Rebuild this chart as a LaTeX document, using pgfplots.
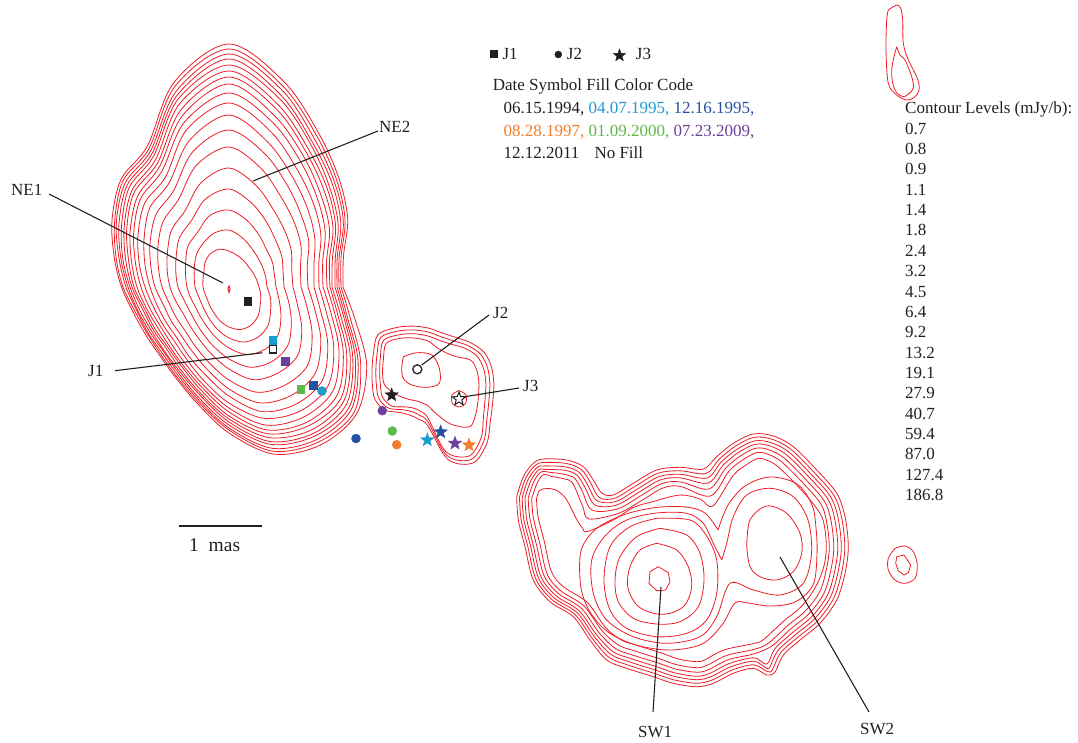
\documentclass[border=0pt]{standalone}
\usepackage{fontspec}
\setmainfont{Liberation Serif}
\usepackage{pgfplots}
\usepackage{pgfplotstable}
\pgfplotsset{compat=1.18}
\definecolor{cRed}{RGB}{237,28,36}
\definecolor{cText}{RGB}{35,31,32}
\definecolor{cCyan}{RGB}{30,155,205}
\definecolor{cBlue}{RGB}{38,80,160}
\definecolor{cOrange}{RGB}{242,125,45}
\definecolor{cGreen}{RGB}{95,185,72}
\definecolor{cPurple}{RGB}{108,64,155}
\pgfdeclareplotmark{fstar}{%
 \pgfpathmoveto{\pgfpointpolar{90}{\pgfplotmarksize}}%
 \pgfpathlineto{\pgfpointpolar{126}{0.42\pgfplotmarksize}}%
 \pgfpathlineto{\pgfpointpolar{162}{\pgfplotmarksize}}%
 \pgfpathlineto{\pgfpointpolar{198}{0.42\pgfplotmarksize}}%
 \pgfpathlineto{\pgfpointpolar{234}{\pgfplotmarksize}}%
 \pgfpathlineto{\pgfpointpolar{270}{0.42\pgfplotmarksize}}%
 \pgfpathlineto{\pgfpointpolar{306}{\pgfplotmarksize}}%
 \pgfpathlineto{\pgfpointpolar{342}{0.42\pgfplotmarksize}}%
 \pgfpathlineto{\pgfpointpolar{18}{\pgfplotmarksize}}%
 \pgfpathlineto{\pgfpointpolar{54}{0.42\pgfplotmarksize}}%
 \pgfpathclose\pgfusepathqfillstroke}
% NE component: contour radii (px) at polar angles about (229,287), c1 outermost
\pgfplotstableread{
a c1 c2 c3 c4 c5 c6 c7 c8 c9 c10 c11 c12 c13 c14 c15 c16 c17 c18
0 114 112 110 108 106 103 101 98 94 90 85 79 72 64 55 47 38 30
15 131 126 123 121 119 116 113 110 106 101 95 89 81 71 62 52 43 33
30 159 152 149 146 143 140 136 132 127 121 114 106 96 84 72 60 48 36
45 180 177 173 170 166 162 158 153 147 140 132 122 111 97 83 69 55 41
60 182.5 179 176 172 169 165 160 156 150 143 135 125 113 99 86 72 58 44
75 173 170 167 163 160 156 152 148 143 136 129 120 109 96 83 70 57 44
90 146 143 141 138 135 132 129 125 121 116 109 102 93 82 72 61 51 40
105 121 119 117 115 112 110 107 104 101 97 91 85 78 69 61 52 44 35
120 105.5 104 102 100 98 96 93 91 88 84 80 74 68 60 53 45 38 30
135 97.5 96 94 92 91 88 86 84 81 77 73 68 62 55 48 41 34 27
150 96 94 93 91 89 87 85 82 79 76 72 67 61 53 46 39 32 25
165 99 97 95 94 92 89 87 85 82 78 74 68 62 55 47 40 32 25
180 107.5 106 103 101 99 97 95 92 88 84 79 74 67 59 51 42 34 26
195 119 117 114 112 110 107 104 101 97 93 87 81 73 64 55 45 36 27
210 135 132 130 127 124 121 118 114 110 105 98 91 82 71 61 50 40 29
225 152.5 150 147 144 141 137 134 129 125 119 112 103 93 81 70 58 46 34
240 163 160 157 154 151 147 143 139 134 127 120 111 101 88 76 63 51 38
255 212 208 203 199 195 190 184 178 171 163 152 140 126 108 91 74 56 39
270 243 238 233 228 222 216 210 203 194 184 172 157 140 119 98 77 57 36
285 212.5 208 204 199 195 189 184 177 170 161 150 138 123 105 87 69 51 32.5
300 178.5 175 171 167 164 159 155 150 144 136 127 117 104 89 75 60 45 30
315 155 152 149 146 142 139 135 130 125 119 111 102 92 79 66 53 41 28
330 137 134 132 129 126 123 120 116 111 106 99 92 83 72 61 50 39 28
345 118.5 116 114 112 110 107 104 101 97 93 88 81 74 65 56 47 38 28.5
360 114 112 110 108 106 103 101 98 94 90 85 79 72 64 55 47 38 30
}\NEtab
% J2/J3 component: radii about (428,385)
\pgfplotstableread{
a o1 o2 o3 j4
0 66 62 58 51
15 67 63 59 52
30 72 68 64 55.5
45 83 79 75 59
60 90 86 82 45
75 77 73 69 29
90 41 37 33 20.7
105 35.5 31.5 27.5 19
120 35 31 27 19
135 39 35 31 21.5
150 50 46 42 26.5
165 55 51 47 34
180 55.6 51.6 47.6 43.3
195 58 54 50 47
210 63 59 55 51.5
225 71 67 63 59
240 66 62 58 54
255 61 57 53 48.5
270 57 53 49 44
285 54 50 46 38
300 55 51 47 37
315 60 56 52 40
330 65 61 57 49.5
345 66 62 58 51
360 66 62 58 51
}\Jtab
\pgfplotsset{ct/.style={draw=cRed, line width=0.8pt, smooth, tension=0.55},
 cts/.style={draw=cRed, line width=0.8pt, sharp plot},
 ld/.style={draw=cText, line width=1.1pt, sharp plot}}
\tikzset{lab/.style={font=\fontsize{17}{20}\selectfont, text=cText, inner sep=0pt, anchor=base west}}
\begin{document}
\begin{tikzpicture}
\useasboundingbox (0,0) rectangle (1078pt,742pt);
\begin{axis}[at={(0,0)}, anchor=south west, scale only axis,
 width=1078pt, height=742pt, xmin=0, xmax=1078, ymin=0, ymax=742,
 y dir=reverse, hide axis, clip=false]
% NE contours
\pgfplotsinvokeforeach{1,...,18}{
 \addplot[ct] table[x expr={229+\thisrow{c#1}*cos(\thisrow{a})}, y expr={287+\thisrow{c#1}*sin(\thisrow{a})}] {\NEtab};
}
\addplot[cts, line width=1pt] coordinates {(229,285.5)(230,289)(229,292.5)(228,289)(229,285.5)};
% J contours
\addplot[ct] table[x expr={428+\thisrow{o1}*cos(\thisrow{a})}, y expr={385+\thisrow{o1}*sin(\thisrow{a})}] {\Jtab};
\addplot[ct] table[x expr={428+\thisrow{o2}*cos(\thisrow{a})}, y expr={385+\thisrow{o2}*sin(\thisrow{a})}] {\Jtab};
\addplot[ct] table[x expr={428+\thisrow{o3}*cos(\thisrow{a})}, y expr={385+\thisrow{o3}*sin(\thisrow{a})}] {\Jtab};
\addplot[ct] table[x expr={428+\thisrow{j4}*cos(\thisrow{a})}, y expr={385+\thisrow{j4}*sin(\thisrow{a})}] {\Jtab};
\addplot[ct] coordinates {(403.3,356.7)(416.7,352.7)(431.7,355)(439.3,368.3)(439.3,383.3)(426.7,387.3)(411.7,385)(403.3,378.3)(401.7,368.3)(403.3,356.7)};
\addplot[ct] coordinates {(459,390.5)(466,395)(465.5,403.5)(459,407)(452.5,403.5)(452,395)(459,390.5)};
% SW contours
\addplot[ct] coordinates {(516.7,496.7)(523.3,476.7)(533.3,463.3)(543.3,459)(566.7,460)(583.3,466.7)(593.3,480)(601.7,493)(613.3,495)(633.3,483.3)(656.7,470)(680,467.3)(703.3,469)(716.7,456.7)(733.3,443.3)(753.3,434)(773.3,436)(793.3,446.7)(816.7,470)(836.7,493.3)(845,516.7)(848.3,546.7)(845,573.3)(836.7,600)(820,623.3)(800,640)(783.3,655)(775,672)(766.7,675)(753.3,668.3)(733.3,673.3)(713.3,683.3)(696.7,686.7)(673.3,683.3)(653.3,676.7)(626.7,668.3)(606.7,660)(590,640)(573.3,616.7)(550,601.7)(533.3,580)(525,546.7)(518.3,520)(516.7,496.7)};
\addplot[ct] coordinates {(519.5,497)(525.8,478)(535.1,465.4)(543.7,462.5)(566,463.4)(581.2,469.5)(590.5,482.5)(599,497.3)(614.3,498.4)(635.1,486.3)(657.8,473.3)(680,470.8)(706,473.5)(719,459.4)(735.2,446.3)(753.9,437.4)(772.3,439.3)(791.1,449.5)(814.1,472.4)(833.7,495.1)(841.6,517.4)(844.8,546.7)(841.6,572.6)(833.6,598.4)(817.4,620.9)(797.7,637.3)(780.5,652.8)(772.3,669.8)(767.3,671.5)(753.5,664.8)(732.1,670)(712.1,680)(696.7,683.2)(674.1,679.9)(654.4,673.4)(627.9,665)(608.8,657.2)(592.2,638.3)(575.2,614.7)(551.9,599.6)(535.8,578.9)(527.7,546)(521.1,519.6)(519.5,497)};
\addplot[ct] coordinates {(522.2,497.3)(528.3,479.2)(537,467.5)(544,465.9)(565.4,466.9)(579.1,472.3)(587.7,485)(597,500.7)(615.3,501.7)(636.8,489.4)(658.9,476.7)(680,474.3)(707,478)(721.2,462)(737,449.3)(754.6,440.9)(771.2,442.7)(789,452.2)(811.6,474.8)(830.7,496.9)(838.1,518.2)(841.3,546.7)(838.1,571.8)(830.5,596.9)(814.8,618.5)(795.5,634.7)(777.8,650.7)(769.6,667.5)(766,668)(753.7,661.3)(730.9,666.7)(710.9,676.7)(696.7,679.7)(674.8,676.5)(655.5,670.1)(629.1,661.7)(611,654.5)(594.4,636.6)(577.2,612.7)(553.8,597.6)(538.4,577.7)(530.4,545.4)(523.8,519.1)(522.2,497.3)};
\addplot[ct] coordinates {(525,497.6)(530.9,480.5)(538.8,469.6)(544.4,469.4)(564.7,470.3)(577,475.1)(585,487.5)(595,505)(616.3,505.1)(638.6,492.4)(660.1,480)(680,477.8)(708,483)(723.5,464.7)(738.9,452.2)(755.2,444.3)(770.2,446)(786.8,455)(809,477.1)(827.7,498.8)(834.7,518.9)(837.8,546.7)(834.7,571.1)(827.4,595.3)(812.2,616.2)(793.2,632)(775,648.5)(767,664)(753.8,657.8)(729.6,663.4)(709.7,673.4)(696.7,676.2)(675.6,673.1)(656.6,666.7)(630.3,658.4)(613.1,651.7)(596.6,634.9)(579.1,610.7)(555.7,595.5)(540.9,576.6)(533.1,544.7)(526.6,518.7)(525,497.6)};
\addplot[ct] coordinates {(528.2,498)(533.7,481.9)(541,472)(551,472.5)(563.9,474.2)(574.6,478.3)(582,490.5)(592,510)(617.5,508.9)(640.6,495.9)(661.3,483.8)(680,481.8)(709,489)(726.1,467.7)(741,455.6)(755.9,448.2)(769,449.8)(784.3,458.2)(806.1,479.9)(824.2,500.8)(830.8,519.7)(833.8,546.7)(830.8,570.3)(823.8,593.5)(809.3,613.4)(790.6,629)(771.8,646)(754,653.8)(728.2,659.7)(708.4,669.7)(696.7,672.2)(676.5,669.2)(657.8,662.9)(631.6,654.7)(615.5,648.5)(599.2,632.9)(581.3,608.3)(557.9,593.1)(543.9,575.2)(536.3,543.9)(529.8,518.1)(528.2,498)};
\addplot[ct] coordinates {(531.7,498.4)(537,483.5)(543.3,474.7)(552,476.5)(563.1,478.6)(571.9,481.9)(578,495)(583,507)(589,519)(618.8,513.2)(642.8,499.8)(662.8,488.1)(680,486.3)(710.5,496)(729,471.1)(743.4,459.5)(756.7,452.6)(767.6,454.1)(781.5,461.7)(802.8,482.9)(820.4,503.2)(826.4,520.7)(829.3,546.7)(826.4,569.3)(819.8,591.5)(805.9,610.4)(787.7,625.6)(768.3,643.2)(754.3,649.3)(726.7,655.4)(706.8,665.4)(696.7,667.7)(677.5,664.9)(659.2,658.7)(633.2,650.4)(618.3,645)(602,630.7)(583.8,605.8)(560.3,590.5)(547.1,573.8)(539.7,543)(533.3,517.6)(531.7,498.4)};
\addplot[ct] coordinates {(536.5,498.9)(539.5,490.5)(546.7,488.5)(556,490)(565,497.5)(571,508)(577,520)(582.5,528)(587.5,531.5)(613.3,520)(633.3,507.5)(653.3,501.5)(680,495)(700,499)(713,506)(733,475.7)(746.6,464.6)(757.8,458.5)(765.8,459.8)(777.8,466.5)(798.5,487)(815.2,506.3)(823.4,521.3)(826.3,546.7)(823.4,568.1)(814.5,588.8)(801.5,606.3)(783.8,621)(763.5,639.5)(754.6,643.3)(724.6,649.8)(704.8,659.8)(696.7,661.7)(678.8,659.1)(661.1,652.9)(635.2,644.8)(621.9,640.3)(605.8,627.8)(587.1,602.3)(563.6,586.9)(551.5,571.8)(544.4,541.9)(538.1,516.8)(536.5,498.9)};
\addplot[ct] coordinates {(718,530)(705,513)(686,507)(656,507.5)(626,514)(600,526)(586,540)(580,556.7)(581,588)(590,612)(608,632)(636,645)(670,650)(702,644)(722,625)(735,603)(748,603)(770,606)(795,602)(813,585)(817,555)(816,528)(812,505)(797,484)(770,477)(745,486)(728,505)(718,530)};
\addplot[ct] coordinates {(721.7,560)(713.3,543.3)(703.3,523.3)(686.7,513.3)(656.7,513)(626.7,520)(605,536)(591.7,560)(593.3,593.3)(606.7,620)(633.3,636.7)(666.7,643.3)(700,636.7)(716.7,616.7)(730,583.3)(753.3,590)(780,595)(803.3,583.3)(811.5,553.3)(808,520)(793.3,496.7)(770,488.3)(746.7,495)(733.3,516.7)(726.7,543.3)(721.7,560)};
\addplot[ct] coordinates {(656.7,518.3)(690,520)(706,535)(716.7,560)(716.7,593.3)(706.7,620)(686.7,633.3)(656.7,636.7)(626.7,628.3)(610,610)(604,580)(610,546.7)(630,526.7)(656.7,518.3)};
\addplot[ct] coordinates {(660,528.3)(686.7,535)(700,553.3)(704,580)(698.3,606.7)(680,621.7)(656.7,624)(633.3,618.3)(618.3,601.7)(615,580)(620,556.7)(636.7,536.7)(660,528.3)};
\addplot[ct] coordinates {(656.7,543.3)(676.7,550)(688.3,566.7)(691.7,586.7)(685,605)(670,613.3)(653.3,613.3)(636.7,605)(627.7,586.7)(630,566.7)(640,550)(656.7,543.3)};
\addplot[cts] coordinates {(658.3,566.7)(668.3,572.7)(670,581.7)(665.7,590)(656.7,590.7)(649,583.3)(650,571.7)(658.3,566.7)};
\addplot[ct] coordinates {(746.7,546.7)(750,520)(766.7,506)(786.7,513.3)(800,533.3)(801.7,553.3)(793.3,571.7)(776.7,580)(760,576.7)(750,566.7)(746.7,546.7)};
% isolated features
\addplot[ct] coordinates {(888.3,10)(896.7,5)(900.7,8.3)(902.7,20)(903.3,43.3)(908.3,60)(916.7,76.7)(919.3,88.3)(915,96.7)(906.7,100)(896.7,95)(888.3,83.3)(886,50)(886.7,20)(888.3,10)};
\addplot[ct] coordinates {(896.7,46.7)(900,55)(905,60)(911.7,76.7)(913.3,88.3)(908.3,94)(903.3,96.7)(896.7,92.7)(892.7,83.3)(891.7,70)(894,56.7)(896.7,46.7)};
\addplot[ct] coordinates {(895,548.3)(905,546)(913.3,551.7)(917.3,565)(915,578.3)(905,583.3)(895,580)(888.3,570)(888.3,558.3)(895,548.3)};
\addplot[cts] coordinates {(896.7,556.7)(904,555)(910.7,565)(908.3,572.7)(904,575)(898.3,570.7)(895.7,563.3)(896.7,556.7)};
% leader lines and scale bar
\addplot[ld] coordinates {(49,194)(223,283)};
\addplot[ld] coordinates {(253,181)(378,131)};
\addplot[ld] coordinates {(115,370.7)(262.3,352.7)};
\addplot[ld] coordinates {(421.7,365)(489,315)};
\addplot[ld] coordinates {(463,397)(519,388)};
\addplot[ld] coordinates {(661,587)(653,712)};
\addplot[ld] coordinates {(780,557)(869,712)};
\addplot[ld, line width=2pt] coordinates {(179,526)(262,526)};
% J1 squares
\addplot[only marks, mark=square*, mark size=3.8pt, mark options={fill=cText, draw=cText}] coordinates {(247.7,301.3)};
\addplot[only marks, mark=square*, mark size=3.8pt, mark options={fill=cCyan, draw=cCyan}] coordinates {(272.7,340)};
\addplot[only marks, mark=square*, mark size=3.8pt, mark options={fill=cPurple, draw=cPurple}] coordinates {(285,361.3)};
\addplot[only marks, mark=square*, mark size=3.8pt, mark options={fill=cGreen, draw=cGreen}] coordinates {(300.7,389.3)};
\addplot[only marks, mark=square*, mark size=3.8pt, mark options={fill=cBlue, draw=cBlue}] coordinates {(313,385.3)};
\addplot[only marks, mark=square*, mark size=3.6pt, mark options={fill=white, draw=cText, line width=1.3pt}] coordinates {(273,349.3)};
% J2 circles
\addplot[only marks, mark=*, mark size=4.5pt, mark options={fill=cCyan, draw=cCyan}] coordinates {(322,391)};
\addplot[only marks, mark=*, mark size=4.5pt, mark options={fill=cBlue, draw=cBlue}] coordinates {(356,438.5)};
\addplot[only marks, mark=*, mark size=4.5pt, mark options={fill=cPurple, draw=cPurple}] coordinates {(382.3,410.7)};
\addplot[only marks, mark=*, mark size=4.5pt, mark options={fill=cGreen, draw=cGreen}] coordinates {(392.3,431)};
\addplot[only marks, mark=*, mark size=4.5pt, mark options={fill=cOrange, draw=cOrange}] coordinates {(396.7,444.7)};
\addplot[only marks, mark=*, mark size=4.5pt, mark options={fill=white, draw=cText, line width=1.3pt}] coordinates {(417.3,369.3)};
% J3 stars
\addplot[only marks, mark=fstar, mark size=7pt, mark options={fill=cText, draw=cText}] coordinates {(391.7,395)};
\addplot[only marks, mark=fstar, mark size=7pt, mark options={fill=cCyan, draw=cCyan}] coordinates {(427.3,440)};
\addplot[only marks, mark=fstar, mark size=7pt, mark options={fill=cBlue, draw=cBlue}] coordinates {(440.7,432)};
\addplot[only marks, mark=fstar, mark size=7pt, mark options={fill=cPurple, draw=cPurple}] coordinates {(455,443.3)};
\addplot[only marks, mark=fstar, mark size=7pt, mark options={fill=cOrange, draw=cOrange}] coordinates {(469,445)};
\addplot[only marks, mark=fstar, mark size=7pt, mark options={fill=white, draw=cText, line width=1pt}] coordinates {(459,399)};
% legend symbols
\addplot[only marks, mark=square*, mark size=3.3pt, mark options={fill=cText, draw=cText}] coordinates {(493.7,53.5)};
\addplot[only marks, mark=*, mark size=3.5pt, mark options={fill=cText, draw=cText}] coordinates {(558.3,54.5)};
\addplot[only marks, mark=fstar, mark size=6.5pt, mark options={fill=cText, draw=cText}] coordinates {(619.5,55.5)};
% labels
\node[lab] at (axis cs:11,195) {NE1};
\node[lab] at (axis cs:379,132) {NE2};
\node[lab] at (axis cs:88,376) {J1};
\node[lab] at (axis cs:493,318) {J2};
\node[lab] at (axis cs:523,391) {J3};
\node[lab] at (axis cs:638,737) {SW1};
\node[lab] at (axis cs:860,734) {SW2};
\node[lab, font=\fontsize{19.5}{22}\selectfont] at (axis cs:189,551.5) {1\hspace{0.5em}mas};
\node[lab] at (axis cs:502.3,59) {J1};
\node[lab] at (axis cs:566.7,59) {J2};
\node[lab] at (axis cs:635.7,59) {J3};
\node[lab] at (axis cs:492.7,90) {Date Symbol Fill Color Code};
\node[lab] at (axis cs:503.3,113.5) {06.15.1994, \textcolor{cCyan}{04.07.1995,} \textcolor{cBlue}{12.16.1995,}};
\node[lab] at (axis cs:503.3,136) {\textcolor{cOrange}{08.28.1997,} \textcolor{cGreen}{01.09.2000,} \textcolor{cPurple}{07.23.2009,}};
\node[lab] at (axis cs:503.3,158) {12.12.2011};
\node[lab] at (axis cs:594.3,158) {No Fill};
\node[lab] at (axis cs:905,113.3) {Contour Levels (mJy/b):};
\node[lab] at (axis cs:905,134) {0.7};
\node[lab] at (axis cs:905,154.4) {0.8};
\node[lab] at (axis cs:905,174.7) {0.9};
\node[lab] at (axis cs:905,195.1) {1.1};
\node[lab] at (axis cs:905,215.5) {1.4};
\node[lab] at (axis cs:905,235.9) {1.8};
\node[lab] at (axis cs:905,256.2) {2.4};
\node[lab] at (axis cs:905,276.6) {3.2};
\node[lab] at (axis cs:905,297) {4.5};
\node[lab] at (axis cs:905,317.3) {6.4};
\node[lab] at (axis cs:905,337.7) {9.2};
\node[lab] at (axis cs:905,358.1) {13.2};
\node[lab] at (axis cs:905,378.4) {19.1};
\node[lab] at (axis cs:905,398.8) {27.9};
\node[lab] at (axis cs:905,419.2) {40.7};
\node[lab] at (axis cs:905,439.6) {59.4};
\node[lab] at (axis cs:905,459.9) {87.0};
\node[lab] at (axis cs:905,480.3) {127.4};
\node[lab] at (axis cs:905,500.7) {186.8};
\end{axis}
\end{tikzpicture}
\end{document}
